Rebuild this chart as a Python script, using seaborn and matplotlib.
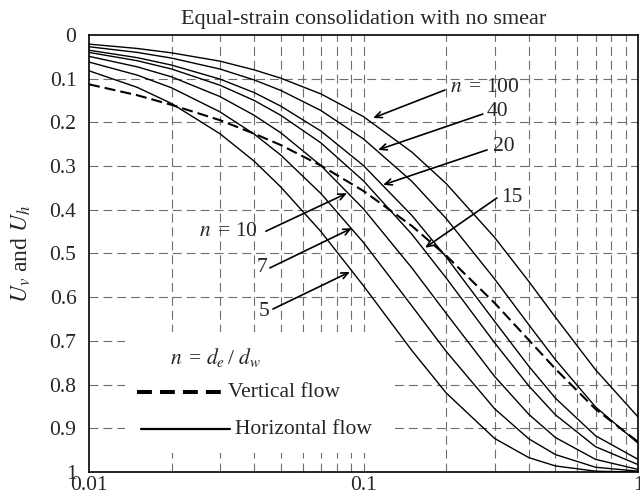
import numpy as np
import pandas as pd
import matplotlib
matplotlib.use("Agg")
import matplotlib.pyplot as plt
from matplotlib.patches import Rectangle
from matplotlib.lines import Line2D
import seaborn as sns

# Time factor (log axis)
T = [0.01, 0.015, 0.02, 0.03, 0.04, 0.05, 0.07, 0.1, 0.15, 0.2, 0.3, 0.4, 0.5, 0.7, 1.0]

# Horizontal-flow degree of consolidation, equal strain, no smear, per n = de/dw
U_n5 = [0.082, 0.120, 0.157, 0.226, 0.289, 0.348, 0.450, 0.574, 0.722, 0.819, 0.923, 0.967, 0.986, 0.998, 1.000]
U_n7 = [0.062, 0.092, 0.121, 0.176, 0.227, 0.275, 0.363, 0.475, 0.620, 0.724, 0.855, 0.924, 0.960, 0.989, 0.998]
U_n10 = [0.049, 0.073, 0.096, 0.141, 0.184, 0.224, 0.299, 0.398, 0.533, 0.637, 0.781, 0.868, 0.921, 0.971, 0.994]
U_n15 = [0.040, 0.059, 0.078, 0.115, 0.150, 0.184, 0.247, 0.334, 0.456, 0.556, 0.704, 0.803, 0.869, 0.942, 0.983]
U_n20 = [0.035, 0.052, 0.069, 0.101, 0.132, 0.163, 0.220, 0.299, 0.413, 0.508, 0.655, 0.758, 0.831, 0.917, 0.971]
U_n40 = [0.027, 0.040, 0.053, 0.078, 0.103, 0.127, 0.173, 0.238, 0.335, 0.420, 0.558, 0.663, 0.743, 0.851, 0.934]
U_n100 = [0.021, 0.031, 0.041, 0.060, 0.080, 0.099, 0.135, 0.187, 0.268, 0.340, 0.463, 0.564, 0.646, 0.766, 0.874]

# Vertical-flow degree of consolidation
U_vert = [0.113, 0.138, 0.160, 0.195, 0.226, 0.252, 0.299, 0.357, 0.437, 0.505, 0.613, 0.698, 0.764, 0.856, 0.931]

n_values = [5, 7, 10, 15, 20, 40, 100]
U_horiz = [U_n5, U_n7, U_n10, U_n15, U_n20, U_n40, U_n100]

title = "Equal-strain consolidation with no smear"
ylabel = r"$U_v$ and $U_h$"
xticks = [0.01, 0.1, 1]
xticklabels = ["0.01", "0.1", "1"]
yticks = [0, 0.1, 0.2, 0.3, 0.4, 0.5, 0.6, 0.7, 0.8, 0.9, 1]
yticklabels = ["0", "0.1", "0.2", "0.3", "0.4", "0.5", "0.6", "0.7", "0.8", "0.9", "1"]

sns.set_style("white")
plt.rcParams["font.family"] = ["Liberation Serif", "DejaVu Serif"]
plt.rcParams["mathtext.fontset"] = "stix"

FS = 15.5

horiz = pd.DataFrame({
    "T": np.tile(T, len(n_values)),
    "U": np.concatenate(U_horiz),
    "n": np.repeat(n_values, len(T)),
})
vert = pd.DataFrame({"T": T, "U": U_vert})

fig = plt.figure(figsize=(6.4, 4.99), dpi=100)
ax = fig.add_axes([0.139, 0.054, 0.858, 0.876])

ax.set_xscale("log")
ax.set_xlim(0.01, 1)
ax.set_ylim(1, 0)

# grid
grid_kw = dict(color="#6e6e6e", lw=0.8, dashes=(8, 4.5))
for dec in [0.01, 0.1]:
    for m in range(1, 10):
        v = dec * m
        if 0.01 < v < 1:
            ax.axvline(v, zorder=0, **grid_kw)
for yv in yticks[1:-1]:
    ax.axhline(yv, zorder=0, **grid_kw)

# blank area behind the key
ax.add_patch(Rectangle((0.0656, 0.0435), 0.4864, 0.2765, transform=ax.transAxes,
                       facecolor="white", edgecolor="none", zorder=1))

palette = {n: "black" for n in n_values}
sns.lineplot(data=horiz, x="T", y="U", hue="n", palette=palette, lw=1.0,
             legend=False, ax=ax, zorder=3)
sns.lineplot(data=vert, x="T", y="U", color="black", lw=1.5, ax=ax, zorder=3)
ax.lines[-1].set_dashes((5.3, 2.4))

ax.set_xticks(xticks)
ax.set_xticklabels(xticklabels)
ax.set_yticks(yticks)
ax.set_yticklabels(yticklabels)
ax.xaxis.set_minor_locator(matplotlib.ticker.NullLocator())
ax.tick_params(axis="y", length=0, labelsize=FS, pad=9)
ax.tick_params(axis="x", length=0, labelsize=FS, pad=3)
ax.set_xlabel("")
ax.set_ylabel(ylabel, fontsize=17, labelpad=12)
ax.set_title(title, fontsize=16, pad=8)
for s in ax.spines.values():
    s.set_color("black")
    s.set_linewidth(1.2)

# arrows and curve labels: (label, tip on curve, arrow tail, text pos, ha)
arrow_specs = [
    (r"$n\,$ = 100", (0.1083, 0.190), (0.198, 0.126), (0.2066, 0.121), "left"),
    ("40", (0.1129, 0.263), (0.272, 0.181), (0.2818, 0.176), "left"),
    ("20", (0.1178, 0.343), (0.282, 0.263), (0.2964, 0.256), "left"),
    ("15", (0.1675, 0.487), (0.306, 0.373), (0.317, 0.373), "left"),
    (r"$n\,$ = 10", (0.0871, 0.362), (0.0441, 0.449), (0.0413, 0.449), "right"),
    ("7", (0.0908, 0.442), (0.0456, 0.533), (0.0445, 0.531), "right"),
    ("5", (0.0893, 0.542), (0.0468, 0.627), (0.0453, 0.632), "right"),
]
for lab, tip, tail, tpos, ha in arrow_specs:
    ax.annotate("", xy=tip, xytext=tail, zorder=5,
                arrowprops=dict(arrowstyle="->,head_length=0.5,head_width=0.22",
                                color="black", lw=1.2, shrinkA=0, shrinkB=0))
    ax.text(tpos[0], tpos[1], lab, ha=ha, va="center", fontsize=FS, zorder=6)

# key
ax.text(0.0197, 0.739, r"$n\,$ = $d_e\,$/ $d_w$", fontsize=FS, ha="left", va="center")
ax.add_line(Line2D([0.0874, 0.2423], [0.183, 0.183], transform=ax.transAxes,
                   color="black", lw=2.9, dashes=(3.7, 2.0), zorder=4))
ax.text(0.0321, 0.817, "Vertical flow", fontsize=FS, ha="left", va="center")
ax.add_line(Line2D([0.0947, 0.2568], [0.098, 0.098], transform=ax.transAxes,
                   color="black", lw=1.6, zorder=4))
ax.text(0.0340, 0.902, "Horizontal flow", fontsize=FS, ha="left", va="center")

fig.savefig("out.png", dpi=100)
